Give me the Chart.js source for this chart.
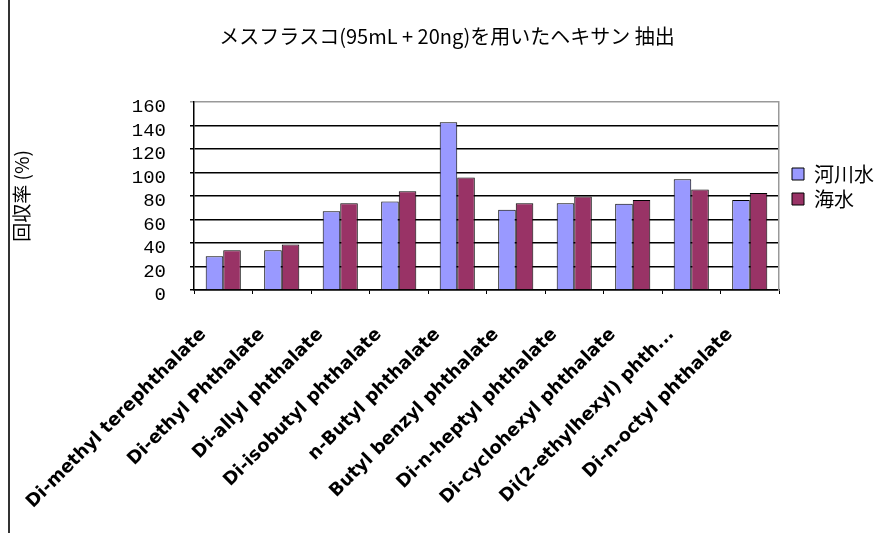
<!DOCTYPE html>
<html>
<head>
<meta charset="utf-8">
<script src="https://cdn.jsdelivr.net/npm/chart.js@4.4.1/dist/chart.umd.min.js"></script>
<style>
    html, body { margin: 0; padding: 0; background: #fff; }
    #wrap { position: relative; width: 894px; height: 533px; }
    #edge { position: absolute; left: 8px; top: 0; width: 2px; height: 533px; background: #333; }
</style>
</head>
<body>
<div id="wrap">
    <canvas id="mainChart" width="894" height="533"></canvas>
    <div id="edge"></div>
</div>
<script>
const chartTitle = 'メスフラスコ(95mL + 20ng)を用いたヘキサン 抽出'
const yTitle = '回収率 (%)'
const labels = [
    'Di-methyl terephthalate',
    'Di-ethyl Phthalate',
    'Di-allyl phthalate',
    'Di-isobutyl phthalate',
    'n-Butyl phthalate',
    'Butyl benzyl phthalate',
    'Di-n-heptyl phthalate',
    'Di-cyclohexyl phthalate',
    'Di(2-ethylhexyl) phth...',
    'Di-n-octyl phthalate'
]
const riverWater = [28.7, 33.9, 67, 75.3, 142.8, 68.4, 73.9, 73.3, 94.3, 76.7]
const seaWater = [33.9, 38.8, 73.9, 84, 95.7, 73.9, 79.6, 76.7, 85.6, 82.5]

function setupCanvas() {
    const ctx = document.getElementById('mainChart').getContext('2d');
    const data = {
        labels: labels,
        datasets: [
            {
                label: '河川水',
                data: riverWater,
                backgroundColor: '#9999FF',
                borderColor: '#000',
                borderWidth: 1
            },
            {
                label: '海水',
                data: seaWater,
                backgroundColor: '#993366',
                borderColor: '#000',
                borderWidth: 1
            }
        ]
    };
    const config = {
        type: 'bar',
        data: data,
        options: {
            responsive: false,
            animation: false,
            layout: {
                padding: { left: 10, right: 10, top: 14, bottom: 0 }
            },
            datasets: {
                bar: {
                    categoryPercentage: 0.6,
                    barPercentage: 1.0
                }
            },
            scales: {
                x: {
                    grid: {
                        drawOnChartArea: false,
                        offset: true,
                        tickLength: 4,
                        color: '#000'
                    },
                    border: { color: '#000', width: 1.5 },
                    ticks: {
                        autoSkip: false,
                        maxRotation: 45,
                        minRotation: 45,
                        padding: 30,
                        labelOffset: -20,
                        color: '#000',
                        font: { family: 'DejaVu Sans', size: 18, weight: 'bold' }
                    },
                    afterFit: (scale) => { scale.height = 243 }
                },
                y: {
                    min: 0,
                    max: 160,
                    ticks: {
                        count: 9,
                        stepSize: 20,
                        autoSkip: false,
                        padding: 24,
                        labelOffset: 5,
                        color: '#000',
                        font: { family: 'Liberation Mono, DejaVu Sans Mono', size: 19, lineHeight: 1 }
                    },
                    grid: {
                        color: (c) => c.tick && c.tick.value === 160 ? '#999' : '#000',
                        lineWidth: 1.5,
                        tickLength: 4
                    },
                    border: { color: '#000', width: 1.5 },
                    title: {
                        display: true,
                        text: yTitle,
                        color: '#000',
                        padding: 0,
                        font: { family: 'Noto Sans CJK JP', size: 19 }
                    },
                    afterFit: (scale) => { scale.width = 184 }
                },
                y2: {
                    position: 'right',
                    min: 0,
                    max: 160,
                    ticks: { display: false },
                    grid: { display: false, drawTicks: false },
                    border: { color: '#999', width: 1.5 },
                    afterFit: (scale) => { scale.width = 8 }
                }
            },
            plugins: {
                legend: {
                    position: 'right',
                    align: 'start',
                    title: {
                        display: true,
                        text: ' ',
                        padding: { top: 133, bottom: 0 },
                        font: { size: 10, lineHeight: 1.2 }
                    },
                    labels: {
                        boxWidth: 12,
                        boxHeight: 12,
                        padding: 5,
                        color: '#000',
                        font: { family: 'Noto Sans CJK JP', size: 20 }
                    }
                },
                title: {
                    display: true,
                    text: chartTitle,
                    color: '#000',
                    padding: { top: 10, bottom: 54 },
                    font: { family: 'Noto Sans CJK JP', size: 20, weight: 'normal' }
                },
                tooltip: { enabled: false }
            }
        }
    };
    return new Chart(ctx, config);
}

const mainChart = setupCanvas();
</script>
</body>
</html>
